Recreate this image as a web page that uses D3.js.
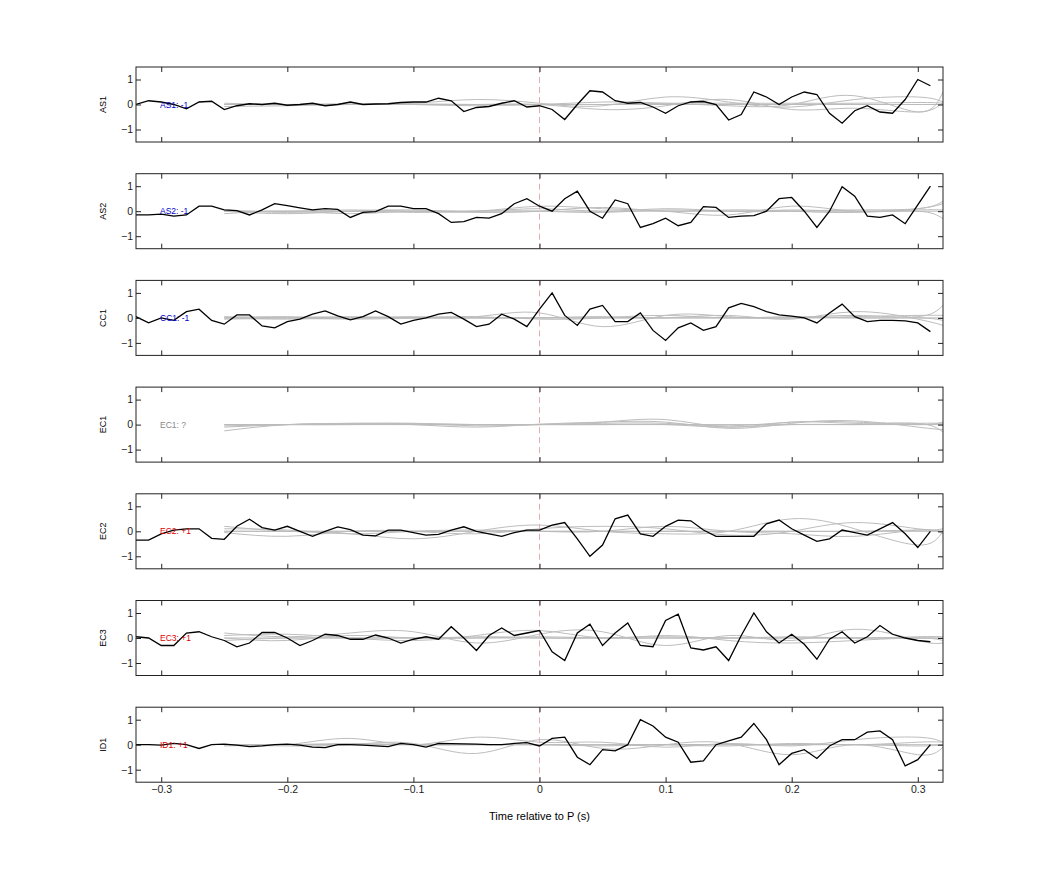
<!DOCTYPE html>
<html><head><meta charset="utf-8">
<script src="https://cdn.jsdelivr.net/npm/d3@7"></script>
<style>body{margin:0;background:#fff}text{font-family:"Liberation Sans",Arial,sans-serif}</style>
</head><body><svg id="c" width="1042" height="875"></svg>
<script>
const stations = ["AS1","AS2","CC1","EC1","EC2","EC3","ID1"];
const polarity = ["-1","-1","-1","?","+1","+1","+1"];
const times = d3.range(64).map(i => +(-0.32 + i*0.01).toFixed(2));
const grayTimes = [-0.25,-0.2,-0.15,-0.1,-0.05,0,0.05,0.1,0.15,0.2,0.25,0.3,0.32];
const xTicks = [-0.3,-0.2,-0.1,0,0.1,0.2,0.3];
const yTicks = [-1,0,1];

const AS1 = [0,0.15,0.1,0,-0.17,0.1,0.13,-0.2,-0.05,0.03,0,0.05,-0.03,0,0.05,-0.05,0,0.1,0,0.02,0.03,0.08,0.1,0.1,0.25,0.15,-0.28,-0.12,-0.08,0.05,0.15,-0.1,-0.05,-0.2,-0.6,0,0.55,0.5,0.15,0.05,0.08,-0.1,-0.35,-0.05,0.1,0.12,0,-0.62,-0.4,0.5,0.3,0,0.3,0.5,0.4,-0.35,-0.75,-0.25,-0.05,-0.3,-0.35,0.2,1.0,0.75];
const AS2 = [-0.15,-0.15,-0.12,-0.2,-0.15,0.2,0.2,0.05,0.02,-0.15,0.05,0.3,0.22,0.13,0.05,0.1,0.07,-0.25,-0.05,-0.02,0.2,0.2,0.1,0.1,-0.1,-0.45,-0.42,-0.25,-0.28,-0.1,0.3,0.5,0.2,0,0.5,0.8,0,-0.28,0.45,0.3,-0.65,-0.5,-0.28,-0.58,-0.45,0.18,0.15,-0.25,-0.2,-0.18,0,0.5,0.55,0,-0.65,0,0.98,0.6,-0.2,-0.25,-0.15,-0.5,0.25,1.0];
const CC1 = [0.05,-0.2,0,-0.1,0.25,0.35,-0.1,-0.25,0.12,0.12,-0.32,-0.4,-0.15,-0.05,0.15,0.28,0.08,-0.08,0.05,0.28,0.05,-0.25,-0.1,0,0.15,0.22,-0.05,-0.35,-0.25,0.15,-0.05,-0.35,0.35,1.0,0.1,-0.3,0.35,0.5,-0.15,-0.15,0.2,-0.5,-0.9,-0.4,-0.2,-0.5,-0.35,0.4,0.58,0.45,0.25,0.12,0.07,0,-0.2,0.2,0.55,0.05,-0.15,-0.1,-0.1,-0.12,-0.2,-0.55];
const EC1 = null;
const EC2 = [-0.35,-0.35,-0.1,0.05,0.1,0.1,-0.28,-0.32,0.2,0.48,0.15,0.05,0.2,0,-0.2,0,0.18,0.07,-0.15,-0.18,0.05,0.05,-0.05,-0.15,-0.12,0.05,0.18,0,-0.1,-0.2,-0.05,0.05,0.05,0.25,0.35,-0.3,-1.0,-0.55,0.5,0.65,-0.1,-0.2,0.2,0.45,0.42,0.05,-0.2,-0.2,-0.2,-0.2,0.3,0.45,0.1,-0.15,-0.4,-0.3,0.05,-0.05,-0.15,0.1,0.35,-0.1,-0.65,0];
const EC3 = [0.05,0,-0.3,-0.3,0.2,0.25,0.05,-0.1,-0.35,-0.2,0.22,0.22,0,-0.3,-0.1,0.15,0.1,-0.05,-0.05,0.12,0,-0.2,-0.05,0.05,-0.05,0.45,0,-0.5,0.1,0.4,0.1,0.2,0.3,-0.55,-0.9,0.2,0.55,-0.3,0.2,0.6,-0.3,-0.35,0.7,0.95,-0.4,-0.48,-0.35,-0.9,0.1,1.0,0.25,-0.2,0.15,-0.25,-0.85,-0.05,0.25,-0.2,0.05,0.5,0.15,0,-0.1,-0.15];
const ID1 = [0,0,-0.02,0.05,0,-0.15,0,0.02,-0.02,-0.08,-0.05,0,0.02,-0.02,-0.1,-0.12,0,0,-0.02,-0.05,-0.08,0.05,0,-0.1,0.05,0.04,0.03,0.02,0,0,0.05,0.08,-0.05,0.25,0.3,-0.5,-0.8,-0.2,-0.25,0,1.0,0.75,0.3,0.1,-0.7,-0.65,0,0.15,0.3,0.85,0.2,-0.8,-0.35,-0.2,-0.55,-0.05,0.2,0.2,0.5,0.55,0.2,-0.85,-0.6,0];
const blackSeries = [AS1,AS2,CC1,EC1,EC2,EC3,ID1];

const grayAS1 = [[0,0,0.02,0.05,0.2,0.05,-0.05,0.3,0.1,-0.1,0.2,0.3,0.1],[0,0,0,0,0,0,-0.2,-0.05,0.2,-0.2,-0.15,-0.3,0.1],[-0.08,-0.05,0,0.02,0,0,0.1,0.05,-0.05,0,0.35,-0.3,0.5],[0.05,0,0.02,0,-0.05,0,0,0.05,0.05,0.05,0.05,0.08,0.05]];
const grayAS2 = [[0,-0.1,0,0.05,0,0.1,0,0.1,0,0,0.05,0.1,0.4],[-0.1,0,-0.1,0,0,0.2,0.1,0,-0.15,0.2,0,0.1,0.3],[0,0,0.05,0,-0.05,0,0.15,0,0.05,0,-0.05,0,-0.3],[0.05,-0.05,0,-0.05,0,0,-0.05,0.05,0,0.05,0,0.05,0.05]];
const grayCC1 = [[0,0.05,0,0.05,0.05,0.2,-0.35,0.1,0.05,0,0.1,0.05,0.5],[-0.05,0,0.05,0,0,0,0.05,0,0.1,-0.05,0.25,-0.05,-0.3],[0.05,0,-0.05,0,0.05,-0.05,0,0.1,0,0.05,0,0,-0.1],[0,-0.05,0,0,0,0,0,0,0,0,0.05,0.1,0.1]];
const grayEC1 = [[-0.25,0,0.05,0.05,-0.05,0,0.1,0.2,-0.1,0.1,0.05,0.05,-0.3],[-0.1,0,0.05,0,-0.1,0.02,0.1,0.1,-0.15,0.05,0.15,-0.1,-0.2],[0,0,0,0.05,0,0,0.05,0.05,-0.05,0.1,0.1,0,0.1],[-0.05,0,0.03,0,0,0,0,0,-0.1,0,0,0.05,0.05]];
const grayEC2 = [[0.2,0,-0.1,-0.3,0,0.25,0,-0.1,0,0.5,0.1,-0.55,0],[-0.05,-0.2,0,0,-0.1,0.1,0.2,0.1,-0.15,0,0.35,0.1,0.1],[0.1,0.05,-0.1,0,0.05,0,0,0.2,0,-0.1,-0.2,0.05,-0.1],[0,0,0,0,0,0,0,0,0,0,0,0.05,0]];
const grayEC3 = [[0.2,0.05,0.2,0.25,-0.2,0.15,0.25,-0.3,0.1,-0.1,0.35,-0.1,-0.2],[0.1,0.15,0,-0.1,0.1,0.3,0,0.1,-0.1,-0.2,-0.1,0,-0.1],[0,-0.1,0.1,0,0.05,0,0,0.05,0,0.05,0,0.05,0.05],[-0.1,0,0,0,0,0.05,0,0,0,0,0,0,0]];
const grayID1 = [[0,0,0.25,0,0.3,0.1,0.1,-0.1,0.05,-0.05,0.2,0.3,0.1],[0,-0.05,0,0.05,-0.35,0.2,-0.15,0,0.05,-0.4,0,-0.4,-0.1],[0,0,0.05,0,0,0,0,0,-0.05,0.05,0,0.1,0.1],[-0.05,0,0,0,0,0,-0.05,0,0,0,0,-0.05,0]];
const graySeries = [grayAS1,grayAS2,grayCC1,grayEC1,grayEC2,grayEC3,grayID1];

const labelColor = p => p==="-1" ? "#0000cc" : p==="+1" ? "#dd0000" : "#888";

const svg = d3.select("#c");
const L=136, R=943, top0=67, H=75, gap=106.7;
const x = d3.scaleLinear().domain([-0.32,0.32]).range([L,R]);

stations.forEach((s,i)=>{
  const t = top0 + i*gap;
  const y = d3.scaleLinear().domain([-1.5,1.5]).range([t+H,t]);
  const g = svg.append("g");
  const clip = "clip"+i;
  g.append("clipPath").attr("id",clip).append("rect").attr("x",L).attr("y",t).attr("width",R-L).attr("height",H);
  const pg = g.append("g").attr("clip-path",`url(#${clip})`);
  pg.append("line").attr("x1",x(0)).attr("x2",x(0)).attr("y1",t).attr("y2",t+H)
    .attr("stroke","#d99").attr("stroke-width",0.8).attr("stroke-dasharray","6,4");
  const gl = d3.line().x((d,k)=>x(grayTimes[k])).y(d=>y(d)).curve(d3.curveNatural);
  graySeries[i].forEach(ser=>{
    pg.append("path").attr("d",gl(ser)).attr("fill","none").attr("stroke","#bdbdbd").attr("stroke-width",1);
  });
  pg.append("line").attr("x1",x(-0.25)).attr("x2",R).attr("y1",y(0)).attr("y2",y(0)).attr("stroke","#bbb").attr("stroke-width",1);
  if(blackSeries[i]){
    const bl = d3.line().x((d,k)=>x(times[k])).y(d=>y(d));
    pg.append("path").attr("d",bl(blackSeries[i])).attr("fill","none").attr("stroke","#000").attr("stroke-width",1.3);
  }
  g.append("text").attr("x",160).attr("y",y(0)+3).attr("font-size",8.5).attr("fill",labelColor(polarity[i])).text(`${s}: ${polarity[i]}`);
  // axes
  const ax = (gen)=>gen.tickSizeInner(-5).tickSizeOuter(0);
  g.append("g").attr("transform",`translate(${L},0)`).call(ax(d3.axisLeft(y).tickValues(yTicks).tickFormat(d3.format("d"))));
  g.append("g").attr("transform",`translate(${R},0)`).call(ax(d3.axisRight(y).tickValues(yTicks)).tickFormat(""));
  g.append("g").attr("transform",`translate(0,${t})`).call(ax(d3.axisTop(x).tickValues(xTicks)).tickFormat(""));
  g.append("g").attr("transform",`translate(0,${t+H})`).call(ax(d3.axisBottom(x).tickValues(xTicks)).tickFormat(i===6?(d=>d===0?"0":d3.format("")(d)):""));
  g.append("rect").attr("x",L).attr("y",t).attr("width",R-L).attr("height",H).attr("fill","none").attr("stroke","#222").attr("stroke-width",1);
  g.append("text").attr("transform",`translate(106,${y(0)}) rotate(-90)`).attr("text-anchor","middle").attr("font-size",9).text(s);
});
svg.selectAll(".domain").remove();
svg.selectAll(".tick line").attr("stroke","#222");
svg.selectAll(".tick text").attr("font-size",10.5).attr("fill","#222").style("font-family","Liberation Sans, Arial");
svg.selectAll("g").filter(function(){return d3.select(this).select(".tick").size()}).each(function(){});
svg.append("text").attr("x",x(0)).attr("y",820).attr("text-anchor","middle").attr("font-size",11).text("Time relative to P (s)");
</script></body></html>
